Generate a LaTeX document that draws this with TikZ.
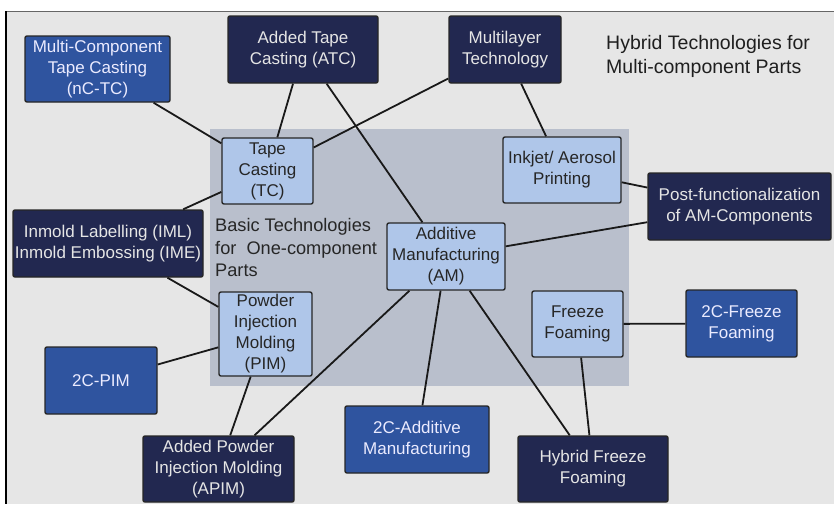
\documentclass[tikz,border=0pt]{standalone}
\usepackage{fontspec}
\setmainfont{Liberation Sans}
\definecolor{bgc}{HTML}{E6E6E6}
\definecolor{basec}{HTML}{B9BFCC}
\definecolor{lightb}{HTML}{AFC6E9}
\definecolor{midb}{HTML}{2F549F}
\definecolor{darkb}{HTML}{222850}
\tikzset{
  box/.style={draw=black!85, line width=1.4pt, rounded corners=2pt, inner sep=0pt, align=center, font=\fontsize{17}{21}\selectfont},
  lightbox/.style={box, fill=lightb, text=black!85},
  midbox/.style={box, fill=midb, text=white!92!blue},
  darkbox/.style={box, fill=darkb, text=white!90!black},
  link/.style={line width=1.8pt, draw=black!90},
}
\newcommand\mybox[7]{\node[#1, minimum width={(#5-#3)*1pt}, minimum height={(#6-#4)*1pt}] (#2) at ({(#3+#5)/2},{(#4+#6)/2}) {#7};}
\begin{document}
\begin{tikzpicture}[x=1pt,y=-1pt]
\useasboundingbox (0,0) rectangle (834,504);
\fill[white] (0,0) rectangle (834,504);
\fill[bgc] (6,11) rectangle (834,504);
\draw[gray!80!black, line width=0.9pt] (6,11) -- (834,11);
\draw[black, line width=2pt] (6,11) -- (6,504);
\fill[basec] (210,129) rectangle (629,386);
\node[anchor=north west, inner sep=0pt, align=left, font=\fontsize{19.5}{24.5}\selectfont, text=black!88] (title) at (606,35) {Hybrid Technologies for\\Multi-component Parts};
\node[anchor=north west, inner sep=0pt, align=left, font=\fontsize{18.2}{22.7}\selectfont, text=black!85] (basic) at (215,218) {Basic Technologies\\for\ \ One-component\\Parts};
% nodes
\mybox{midbox}{nctc}{25}{36}{170}{102}{Multi-Component\\Tape Casting\\(nC-TC)}
\mybox{darkbox}{atc}{228}{16}{378}{83}{Added Tape\\Casting (ATC)}
\mybox{darkbox}{mlt}{449}{16}{561}{83}{Multilayer\\Technology}
\mybox{lightbox}{tc}{222}{138}{313}{204}{Tape\\Casting\\(TC)}
\mybox{lightbox}{ink}{503}{137}{621}{203}{Inkjet/ Aerosol\\Printing}
\mybox{darkbox}{post}{648}{173}{831}{240}{Post-functionalization\\of AM-Components}
\mybox{darkbox}{iml}{13}{210}{203}{277}{Inmold Labelling (IML)\\Inmold Embossing (IME)}
\mybox{lightbox}{am}{387}{223}{505}{290}{Additive\\Manufacturing\\(AM)}
\mybox{lightbox}{pim}{219}{292}{312}{376}{Powder\\Injection\\Molding\\(PIM)}
\mybox{midbox}{cpim}{45}{347}{157}{414}{2C-PIM}
\mybox{darkbox}{apim}{143}{436}{294}{502}{Added Powder\\Injection Molding\\(APIM)}
\mybox{midbox}{cam}{345}{406}{489}{473}{2C-Additive\\Manufacturing}
\mybox{lightbox}{ff}{532}{291}{623}{357}{Freeze\\Foaming}
\mybox{midbox}{cff}{686}{290}{797}{357}{2C-Freeze\\Foaming}
\mybox{darkbox}{hff}{518}{436}{668}{502}{Hybrid Freeze\\Foaming}
% connectors
\draw[link] (nctc) -- (tc);
\draw[link] (atc) -- (tc);
\draw[link] (atc) -- (am);
\draw[link] (mlt) -- (tc);
\draw[link] (mlt) -- (ink);
\draw[link] (ink) -- (post);
\draw[link] (am) -- (post);
\draw[link] (iml) -- (tc);
\draw[link] (iml) -- (pim);
\draw[link] (cpim) -- (pim);
\draw[link] (pim) -- (apim);
\draw[link] (am) -- (apim);
\draw[link] (am) -- (cam);
\draw[link] (am) -- (hff);
\draw[link] (ff) -- (hff);
\draw[link] (ff) -- (cff);
\end{tikzpicture}
\end{document}
